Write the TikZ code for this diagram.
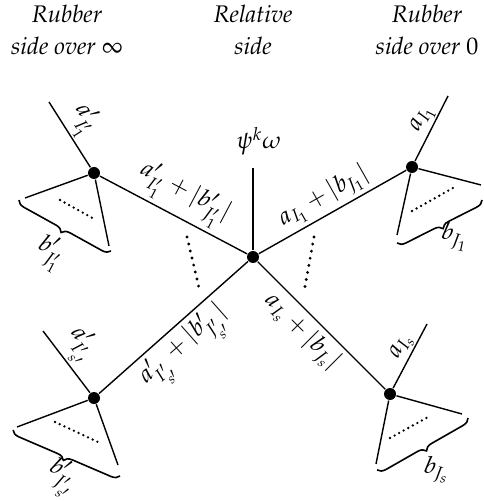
\documentclass[tikz,border=0pt]{standalone}
\usepackage[T1]{fontenc}
\usepackage{mathpazo}
\usetikzlibrary{decorations.pathreplacing}
\begin{document}
\begin{tikzpicture}[x=0.5pt,y=-0.5pt,line width=0.7pt,
  vtx/.style={circle,fill=black,inner sep=0pt,minimum size=6pt},
  lbl/.style={font=\fontsize{12}{14}\selectfont},
  leglbl/.style={font=\fontsize{12}{14}\selectfont,inner sep=0.8pt,sloped,above,pos=0.56},
  hdr/.style={font=\fontsize{12}{16}\selectfont\itshape,align=center},
  brc/.style={decorate,decoration={brace,amplitude=4pt},line width=0.8pt},
  smalldots/.style={line width=1.3pt,line cap=round,dash pattern=on 0pt off 2.6pt},
  bigdots/.style={line width=1.6pt,line cap=round,dash pattern=on 0pt off 3.6pt}]
\useasboundingbox (0,0) rectangle (483,501);
% headers
\node[hdr] (h1) at (67,30) {Rubber\\side over $\infty$};
\node[hdr] (h2) at (253,30) {Relative\\side};
\node[hdr] (h3) at (427,30) {Rubber\\side over $0$};
% vertices
\node[vtx] (C) at (253,257) {};
\node[vtx] (TL) at (94,173) {};
\node[vtx] (TR) at (412,167) {};
\node[vtx] (BL) at (94,398) {};
\node[vtx] (BR) at (390,394) {};
% free ends
\coordinate (Cup) at (253,168);
\coordinate (TLa) at (49,102);
\coordinate (TLp) at (25,198);
\coordinate (TLq) at (109,246);
\coordinate (TRa) at (448,96);
\coordinate (TRp) at (481,185);
\coordinate (TRq) at (397,235);
\coordinate (BLa) at (43,331);
\coordinate (BLp) at (17,427);
\coordinate (BLq) at (118,465);
\coordinate (BRa) at (427,324);
\coordinate (BRp) at (462,414);
\coordinate (BRq) at (376,464);
% central
\draw (C) -- (Cup);
\node[lbl,anchor=south] (psi) at (259,163) {$\psi^k\omega$};
\draw (C) -- node[lbl,sloped,above,pos=0.5,inner sep=2pt] {$a'_{I'_1}+|b'_{J'_1}|$} (TL);
\draw (C) -- node[lbl,sloped,above,pos=0.5,inner sep=2pt] {$a_{I_1}+|b_{J_1}|$} (TR);
\draw (C) -- node[lbl,sloped,below,pos=0.52,inner sep=2pt] {$a'_{I'_{s'}}+|b'_{J'_{s'}}|$} (BL);
\draw (C) -- node[lbl,sloped,below,pos=0.45,inner sep=2pt] {$a_{I_s}+|b_{J_s}|$} (BR);
% dotted separators
\draw[bigdots] (187,237) -- (200,292);
\draw[bigdots] (314,237) -- (304,292);
% top-left subtree
\draw (TL) -- node[leglbl] {$a'_{I'_1}$} (TLa);
\draw (TL) -- (TLp);
\draw (TL) -- (TLq);
\draw[smalldots] (60,200) -- (96,220);
\draw[brc] (111,251) -- (19,200);
\node[lbl,rotate=-28] (bTL) at (50,253) {$b'_{J'_1}$};
% top-right subtree
\draw (TR) -- node[leglbl] {$a_{I_1}$} (TRa);
\draw (TR) -- (TRp);
\draw (TR) -- (TRq);
\draw[smalldots] (412,211) -- (453,188);
\draw[brc] (482,200) -- (397,243);
\node[lbl,rotate=-12] (bTR) at (455,237) {$b_{J_1}$};
% bottom-left subtree
\draw (BL) -- node[leglbl] {$a'_{I'_{s'}}$} (BLa);
\draw (BL) -- (BLp);
\draw (BL) -- (BLq);
\draw[smalldots] (55,422) -- (98,442);
\draw[brc] (120,476) -- (13,430);
\node[lbl,rotate=-32] (bBL) at (62,478) {$b'_{J'_{s'}}$};
% bottom-right subtree
\draw (BR) -- node[leglbl] {$a_{I_s}$} (BRa);
\draw (BR) -- (BRp);
\draw (BR) -- (BRq);
\draw[smalldots] (390,438) -- (430,416);
\draw[brc] (468,418) -- (377,470);
\node[lbl,rotate=-12] (bBR) at (437,470) {$b_{J_s}$};
\end{tikzpicture}
\end{document}
